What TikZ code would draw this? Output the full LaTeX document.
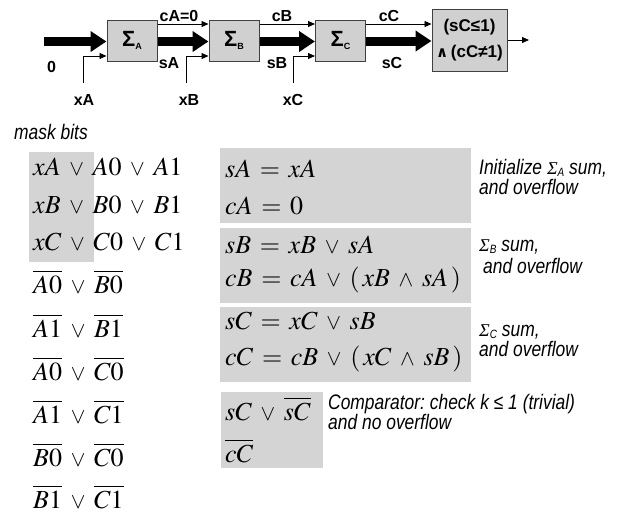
\documentclass[tikz,border=0pt]{standalone}
\usepackage{mathptmx}
\usepackage[no-math]{fontspec}
\usetikzlibrary{arrows.meta}
\newfontfamily\labfont{Liberation Sans}
\newfontfamily\narrowfont{Liberation Sans}[FakeStretch=0.83]
\newfontfamily\symfont{DejaVu Sans}
\newfontfamily\greekit{Liberation Serif}
\definecolor{boxgray}{HTML}{D0D0D0}
\definecolor{panelgray}{HTML}{D4D4D4}
\definecolor{edgegray}{HTML}{404040}
% adder symbol with a small subscript
\newcommand{\AdderSym}[1]{{\fontsize{22}{22}\selectfont Σ}\raisebox{-3pt}{\fontsize{9}{9}\selectfont #1}}
% italic sigma used in the side notes
\newcommand{\NoteSig}[1]{{\greekit\itshape\fontsize{18}{18}\selectfont Σ}\raisebox{-2pt}{\fontsize{12}{12}\selectfont #1}}
% small logic connectives sitting on the baseline
\newcommand{\lorr}{\mathbin{\mbox{\fontsize{22}{22}\selectfont$\vee$}}}
\newcommand{\landd}{\mathbin{\mbox{\fontsize{22}{22}\selectfont$\wedge$}}}
\begin{document}
\frenchspacing
\medmuskip=6mu
\thickmuskip=6mu
\begin{tikzpicture}[x=1pt,y=-1pt,
  adder/.style={draw=edgegray, fill=boxgray, line width=1pt, minimum width=50pt,
    minimum height=41pt, inner sep=0pt, font=\labfont\bfseries},
  wire/.style={line width=0.9pt, -{Triangle[length=7pt,width=6pt]}},
  bus/.style={line width=9pt, -{Triangle[length=16pt,width=20pt]}},
  lab/.style={font=\labfont\bfseries\fontsize{16}{16}\selectfont, inner sep=0pt},
  eq/.style={anchor=base west, inner sep=0pt, font=\fontsize{26}{30}\selectfont},
  note/.style={anchor=base west, inner sep=0pt,
    font=\narrowfont\itshape\fontsize{21}{20}\selectfont},
  panel/.style={fill=panelgray, draw=none}
]
\useasboundingbox (0,0) rectangle (619,515);

% ---- adder chain ----
\node[adder] (sa) at (132,40.5) {\AdderSym{A}};
\node[adder] (sb) at (234,40.5) {\AdderSym{B}};
\node[adder] (sc) at (340.5,40.5) {\AdderSym{C}};
\node[adder, minimum width=75pt, minimum height=62pt, align=center,
      font=\labfont\bfseries\fontsize{17}{26}\selectfont] (cmp) at (469.5,40)
      {(sC≤1)\\{\symfont\fontsize{15}{15}\selectfont ∧\,}(cC≠1)};

% sum buses
\coordinate (zin) at (44,41.5);
\draw[bus] (zin) -- (zin -| sa.west);
\draw[bus] ([yshift=-1pt]sa.east) -- ([yshift=-1pt]sb.west);
\draw[bus] ([yshift=-1pt]sb.east) -- ([yshift=-1pt]sc.west);
\coordinate (cs) at ([yshift=-0.5pt]sc.east);
\draw[bus] (cs) -- (cs -| cmp.west);

% carry wires
\draw[wire] ([yshift=16.5pt]sa.east) -- ([yshift=16.5pt]sb.west);
\draw[wire] ([yshift=16.5pt]sb.east) -- ([yshift=16.5pt]sc.west);
\coordinate (ct) at ([yshift=16.5pt]sc.east);
\draw[wire] (ct) -- (ct -| cmp.west);

% input bits
\coordinate (xa) at (83,83);
\coordinate (xb) at (186,83);
\coordinate (xc) at (293,83);
\draw[wire] (xa) |- ([yshift=-15.5pt]sa.west);
\draw[wire] (xb) |- ([yshift=-15.5pt]sb.west);
\draw[wire] (xc) |- ([yshift=-15.5pt]sc.west);

% result
\coordinate (out) at (529,40);
\draw[wire] (cmp.east) -- (out);

% labels
\node[lab] (l0)  at (51.5,67) {0};
\node[lab] (lca) at (179,16) {cA=0};
\node[lab] (lcb) at (282,16) {cB};
\node[lab] (lcc) at (389,16) {cC};
\node[lab] (lsa) at (169,63) {sA};
\node[lab] (lsb) at (277,63) {sB};
\node[lab] (lsc) at (392,63) {sC};
\node[lab] (lxa) at (84,100) {xA};
\node[lab] (lxb) at (189,100) {xB};
\node[lab] (lxc) at (293,100) {xC};

% ---- clauses ----
\node[note] (mask) at (14,139) {mask bits};
\fill[panel] (29,152) rectangle (94,262);
\node[eq] (r1) at (33,175) {$xA \lorr A0 \lorr A1$};
\node[eq] (r2) at (33,213) {$xB \lorr B0 \lorr B1$};
\node[eq] (r3) at (33,250) {$xC \lorr C0 \lorr C1$};
\node[eq] (r4) at (33,293) {$\overline{A0} \lorr \overline{B0}$};
\node[eq] (r5) at (33,337) {$\overline{A1} \lorr \overline{B1}$};
\node[eq] (r6) at (33,380) {$\overline{A0} \lorr \overline{C0}$};
\node[eq] (r7) at (33,423) {$\overline{A1} \lorr \overline{C1}$};
\node[eq] (r8) at (33,466) {$\overline{B0} \lorr \overline{C0}$};
\node[eq] (r9) at (33,508) {$\overline{B1} \lorr \overline{C1}$};

\fill[panel] (220,148) rectangle (471,223);
\fill[panel] (220,228) rectangle (471,303);
\fill[panel] (220,307) rectangle (471,382);
\fill[panel] (221,392) rectangle (323,468);

\node[eq] (e1) at (225,177) {$sA = xA$};
\node[eq] (e2) at (225,214) {$cA = 0$};
\node[eq] (e3) at (225,253) {$sB = xB \lorr sA$};
\node[eq] (e4) at (225,286) {$cB = cA \lorr (\,xB \landd sA\,)$};
\node[eq] (e5) at (225,329) {$sC = xC \lorr sB$};
\node[eq] (e6) at (225,365) {$cC = cB \lorr (\,xC \landd sB\,)$};
\node[eq] (e7) at (225,420) {$sC \lorr \overline{sC}$};
\node[eq] (e8) at (225,462) {$\overline{cC}$};

\node[note] (n1) at (479,174) {Initialize \NoteSig{A} sum,};
\node[note] (n2) at (479,194) {and overflow};
\node[note] (n3) at (479,251) {\NoteSig{B} sum,};
\node[note] (n4) at (483,273) {and overflow};
\node[note] (n5) at (479,336) {\NoteSig{C} sum,};
\node[note] (n6) at (479,356) {and overflow};
\node[note] (n7) at (328,409) {Comparator: check k ≤ 1 (trivial)};
\node[note] (n8) at (328,429) {and no overflow};
\end{tikzpicture}
\end{document}
